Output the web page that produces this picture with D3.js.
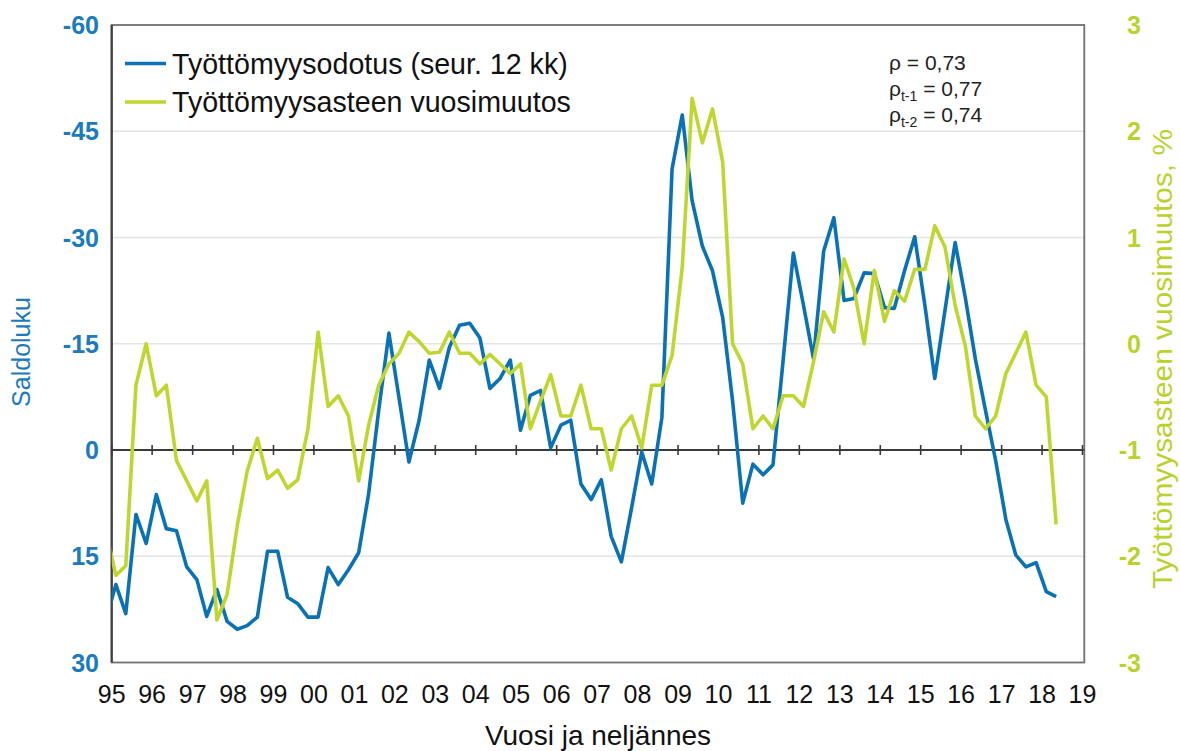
<!DOCTYPE html>
<html>
<head>
<meta charset="utf-8">
<script src="https://cdn.jsdelivr.net/npm/d3@7"></script>
<style>
  html, body { margin: 0; padding: 0; background: #fff; }
  svg { display: block; font-family: "Liberation Sans", Arial, sans-serif; }
</style>
</head>
<body>
<svg id="chart" width="1180" height="751"></svg>
<script>
// ---------- DATA ----------
// Quarterly observations from 1994Q4 (partly hidden at the axis) to 2018Q2
const firstYear = 1994, firstQuarter = 4, nObs = 95;

// Työttömyysodotus (seur. 12 kk) – saldoluku (left axis, reversed)
const expectation = [
  24.0,
  19.0, 23.1, 9.1, 13.2, 6.3, 11.1, 11.4, 16.5, 18.3, 23.5,
  19.7, 24.2, 25.3, 24.8, 23.6, 14.3, 14.3, 20.8, 21.7, 23.6,
  23.6, 16.6, 19.0, 16.9, 14.5, 6.3, -5.6, -16.5, -7.3, 1.7,
  -4.2, -12.7, -8.7, -14.5, -17.6, -17.9, -15.8, -8.7, -10.1, -12.7,
  -2.8, -7.7, -8.4, -0.3, -3.5, -4.2, 4.8, 7.0, 4.2, 12.2,
  15.8, 8.2, 0.3, 4.8, -4.6, -39.7, -47.3, -35.2, -28.8, -25.3,
  -18.7, -7.0, 7.5, 2.0, 3.5, 2.1, -12.7, -27.8, -20.4, -12.9,
  -28.1, -32.8, -21.1, -21.4, -25.0, -24.9, -20.1, -20.0, -25.3, -30.1,
  -20.4, -10.1, -19.7, -29.3, -21.5, -12.9, -5.6, 1.5, 9.8, 14.8,
  16.5, 15.9, 20.0, 20.7
];

// Työttömyysasteen vuosimuutos, %-yks. (right axis)
const rateChange = [
  -1.75,
  -2.18, -2.09, -0.39, 0.00, -0.49, -0.39, -1.10, -1.29, -1.48, -1.29,
  -2.60, -2.36, -1.71, -1.20, -0.89, -1.27, -1.19, -1.36, -1.28, -0.80,
  0.11, -0.59, -0.49, -0.68, -1.29, -0.77, -0.39, -0.19, -0.09, 0.11,
  0.02, -0.09, -0.08, 0.11, -0.09, -0.09, -0.19, -0.10, -0.19, -0.28,
  -0.19, -0.80, -0.54, -0.29, -0.68, -0.68, -0.39, -0.80, -0.80, -1.19,
  -0.80, -0.68, -0.98, -0.39, -0.39, -0.11, 0.72, 2.31, 1.89, 2.21,
  1.71, 0.00, -0.19, -0.80, -0.68, -0.80, -0.49, -0.49, -0.59, -0.17,
  0.30, 0.11, 0.80, 0.52, 0.00, 0.69, 0.21, 0.50, 0.40, 0.70,
  0.70, 1.11, 0.91, 0.36, -0.02, -0.68, -0.80, -0.68, -0.28, -0.09,
  0.11, -0.39, -0.50, -1.70
];

const leftTicks = [-60, -45, -30, -15, 0, 15, 30];
const rightTicks = [3, 2, 1, 0, -1, -2, -3];
const yearTickLabels = ["95","96","97","98","99","00","01","02","03","04","05","06",
  "07","08","09","10","11","12","13","14","15","16","17","18","19"];

const seriesNames = ["Työttömyysodotus (seur. 12 kk)", "Työttömyysasteen vuosimuutos"];
const corrLines = [
  {sub: "", val: "0,73"},
  {sub: "t-1", val: "0,77"},
  {sub: "t-2", val: "0,74"}
];

// ---------- LAYOUT ----------
const colBlue = "#0a72b4", colGreen = "#c0d630";
const colBlueText = "#1c7bbd", colGreenText = "#b9d22c";
const plot = {left: 111.7, top: 25, bottom: 662.5};

const svg = d3.select("#chart");

// quarter dates (middle month of quarter)
const dates = d3.range(nObs).map(i => {
  const qIndex = (firstQuarter - 1) + i;
  const year = firstYear + Math.floor(qIndex / 4);
  const q = qIndex % 4;
  return new Date(year, q * 3 + 1, 8);
});

const x = d3.scaleTime()
  .domain([new Date(1995, 0, 1), new Date(2019, 0, 1)])
  .range([plot.left, 1082.5]);
const plotRight = x.range()[1] + 1.8;

const yL = d3.scaleLinear().domain([-60, 30]).range([plot.top, plot.bottom]);
const yR = d3.scaleLinear().domain([3, -3]).range([plot.top, plot.bottom]);

// gridlines
svg.append("g").selectAll("line")
  .data(leftTicks.filter(t => t !== 0 && t !== -60 && t !== 30))
  .join("line")
  .attr("x1", plot.left).attr("x2", plotRight)
  .attr("y1", d => yL(d)).attr("y2", d => yL(d))
  .attr("stroke", "#e4e4e4").attr("stroke-width", 1.5);

// frame
svg.append("rect")
  .attr("x", plot.left).attr("y", plot.top)
  .attr("width", plotRight - plot.left).attr("height", plot.bottom - plot.top)
  .attr("fill", "none").attr("stroke", "#707070").attr("stroke-width", 1.8);
svg.append("line")
  .attr("x1", plot.left).attr("x2", plot.left)
  .attr("y1", plot.top).attr("y2", plot.bottom)
  .attr("stroke", "#404040").attr("stroke-width", 2.2);

// zero axis with year ticks
const yearDates = yearTickLabels.map((_, i) => new Date(1995 + i, 0, 1));
const xAxisG = svg.append("g").attr("transform", `translate(0,${yL(0)})`);
xAxisG.append("line")
  .attr("x1", plot.left).attr("x2", plotRight)
  .attr("stroke", "#3a3a3a").attr("stroke-width", 2);
xAxisG.selectAll("line.tk").data(yearDates).join("line")
  .attr("class", "tk")
  .attr("x1", d => x(d)).attr("x2", d => x(d))
  .attr("y1", -5).attr("y2", 5)
  .attr("stroke", "#3a3a3a").attr("stroke-width", 1.6);

// year labels
svg.append("g").selectAll("text").data(yearTickLabels).join("text")
  .attr("x", (d, i) => x(yearDates[i]))
  .attr("y", 703)
  .attr("text-anchor", "middle")
  .attr("font-size", 25)
  .attr("fill", "#111")
  .text(d => d);

// left axis labels
svg.append("g").selectAll("text").data(leftTicks).join("text")
  .attr("x", 99)
  .attr("y", d => yL(d) + 9)
  .attr("text-anchor", "end")
  .attr("font-size", 25)
  .attr("font-weight", "bold")
  .attr("fill", colBlueText)
  .text(d => d);

// right axis labels
svg.append("g").selectAll("text").data(rightTicks).join("text")
  .attr("x", 1141)
  .attr("y", d => yR(d) + 9)
  .attr("text-anchor", "end")
  .attr("font-size", 25)
  .attr("font-weight", "bold")
  .attr("fill", colGreenText)
  .text(d => d);

// axis titles
svg.append("text")
  .attr("transform", `translate(30,352) rotate(-90)`)
  .attr("text-anchor", "middle")
  .attr("font-size", 25)
  .attr("fill", colBlueText)
  .text("Saldoluku");
svg.append("text")
  .attr("transform", `translate(1172,359) rotate(-90)`)
  .attr("text-anchor", "middle")
  .attr("font-size", 27)
  .attr("textLength", 460)
  .attr("lengthAdjust", "spacingAndGlyphs")
  .attr("fill", colGreenText)
  .text("Työttömyysasteen vuosimuutos, %");
svg.append("text")
  .attr("x", (plot.left + plotRight) / 2)
  .attr("y", 745)
  .attr("text-anchor", "middle")
  .attr("font-size", 28)
  .attr("fill", "#111")
  .text("Vuosi ja neljännes");

// lines
svg.append("defs").append("clipPath").attr("id", "clip")
  .append("rect")
  .attr("x", plot.left).attr("y", plot.top)
  .attr("width", plotRight - plot.left).attr("height", plot.bottom - plot.top);

const lineL = d3.line().x((d, i) => x(dates[i])).y(d => yL(d));
const lineR = d3.line().x((d, i) => x(dates[i])).y(d => yR(d));
const lines = svg.append("g").attr("clip-path", "url(#clip)");
lines.append("path").datum(expectation)
  .attr("d", lineL).attr("fill", "none")
  .attr("stroke", colBlue).attr("stroke-width", 3.6)
  .attr("stroke-linejoin", "round");
lines.append("path").datum(rateChange)
  .attr("d", lineR).attr("fill", "none")
  .attr("stroke", colGreen).attr("stroke-width", 3.6)
  .attr("stroke-linejoin", "round");

// legend
const legend = svg.append("g");
[colBlue, colGreen].forEach((c, i) => {
  const yy = 63.5 + i * 38.5;
  legend.append("line")
    .attr("x1", 125).attr("x2", 166).attr("y1", yy).attr("y2", yy)
    .attr("stroke", c).attr("stroke-width", 3.6);
  legend.append("text")
    .attr("x", 172).attr("y", yy + 10)
    .attr("font-size", 28.6)
    .attr("fill", "#111")
    .text(seriesNames[i]);
});

// correlation annotation
const corr = svg.append("g");
corrLines.forEach((d, i) => {
  const t = corr.append("text")
    .attr("x", 889).attr("y", 70 + i * 25.8)
    .attr("font-size", 21)
    .attr("fill", "#222");
  t.append("tspan").text("ρ");
  if (d.sub) {
    t.append("tspan").attr("font-size", 14).attr("dy", 5).text(d.sub);
    t.append("tspan").attr("dy", -5).text(" = " + d.val);
  } else {
    t.append("tspan").text(" = " + d.val);
  }
});
</script>
</body>
</html>
